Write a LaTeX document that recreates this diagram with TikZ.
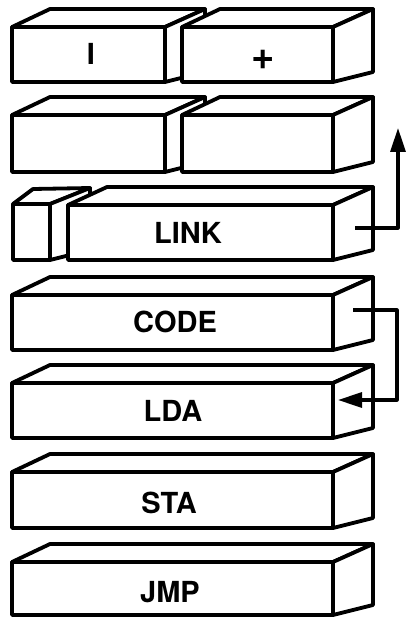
\documentclass[tikz,border=0pt]{standalone}
\usepackage{fontspec}
\setsansfont{TeX Gyre Heros}
\usetikzlibrary{arrows.meta}

% one slab: front face, top face and right side face
% #1 name, #2 left x, #3 top y, #4 right x, #5 bottom y, #6 depth shift of the back-left corner
\newcommand\slabbox[6]{%
  \path[slab] (#2,#3) -- ++(#6,-18) -- (#4+40,#3-18) -- (#4,#3) -- cycle;
  \path[slab] (#4,#3) -- (#4+40,#3-18) -- (#4+40,#5-10) -- (#4,#5) -- cycle;
  \path[slab] (#2,#3) rectangle (#4,#5);
  \coordinate (#1-front) at ({(#2+#4)/2},{(#3+#5)/2});
}

\tikzset{
  slab/.style={draw, fill=white, line width=3.8pt, line join=round},
  lbl/.style={inner sep=0pt, font=\sffamily\bfseries\fontsize{29}{29}\selectfont},
  link/.style={line width=3.2pt, line join=round, -{Triangle[length=24pt,width=15pt]}},
}

\begin{document}
\begin{tikzpicture}[x=1pt, y=-1pt]
  \useasboundingbox (0,0) rectangle (406,620);

  % row 1
  \slabbox{a1}{12}{27}{165}{82}{38}
  \slabbox{a2}{182}{27}{333}{82}{38}
  \node[lbl] (ta1) at (91,54) {I};
  \node[lbl, font=\sffamily\bfseries\fontsize{40}{40}\selectfont] (ta2) at (263,60) {+};

  % row 2
  \slabbox{b1}{12}{115}{165}{172}{38}
  \slabbox{b2}{182}{115}{333}{172}{38}

  % row 3: small block and LINK field
  \path[slab] (13,204) -- (33,189) -- (90,188) -- (50,204) -- cycle;
  \path[slab] (50,204) -- (90,188) -- (90,250) -- (50,260) -- cycle;
  \path[slab] (13,204) rectangle (50,260);
  \slabbox{link}{68}{205}{333}{260}{39}
  \node[lbl] (tlink) at (188,233) {LINK};

  % code body
  \slabbox{code}{12}{295}{333}{350}{38}
  \node[lbl] (tcode) at (175,322) {CODE};
  \slabbox{lda}{12}{383}{333}{438}{38}
  \node[lbl] (tlda) at (173,411) {LDA};
  \slabbox{sta}{12}{472}{333}{528}{38}
  \node[lbl] (tsta) at (169,503) {STA};
  \slabbox{jmp}{12}{562}{333}{615}{38}
  \node[lbl] (tjmp) at (170,592) {JMP};

  % link pointers
  \coordinate (linkport) at (355,228);
  \coordinate (linkup) at (398,128);
  \coordinate (codeport) at (353,310);
  \coordinate (ldaport) at (338,400);
  \draw[link] (linkport) -| (linkup);
  \draw[link] (codeport) -- (397,310) |- (ldaport);
\end{tikzpicture}
\end{document}
